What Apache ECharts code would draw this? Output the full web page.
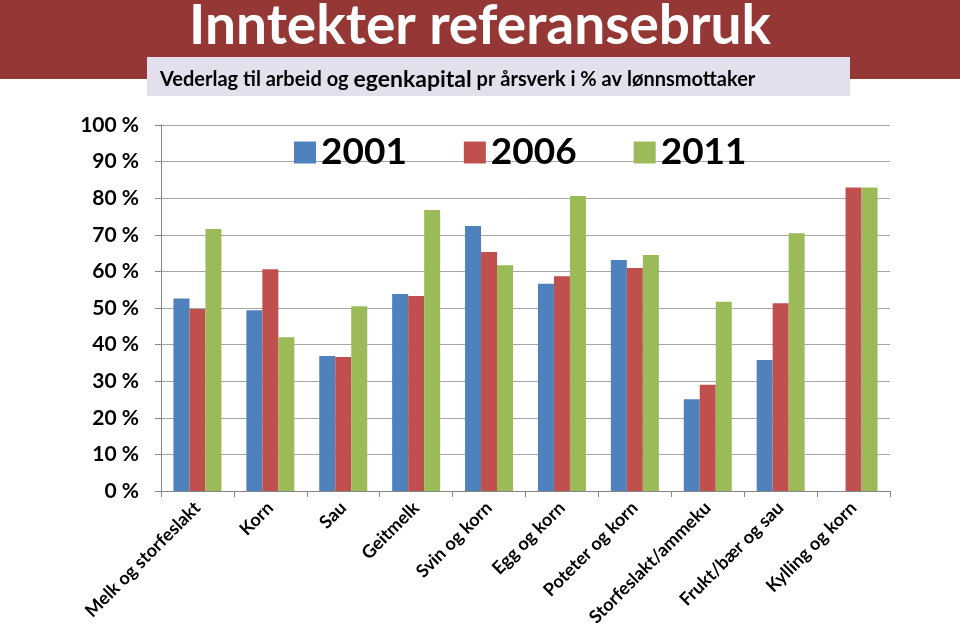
<!DOCTYPE html>
<html>
<head>
<meta charset="utf-8">
<script src="https://cdn.jsdelivr.net/npm/echarts@6/dist/echarts.min.js"></script>
<style>
  html, body { margin: 0; padding: 0; background: #fff; }
  #chart { width: 960px; height: 633px; }
</style>
</head>
<body>
<div id="chart"></div>
<script>
const categories = ['Melk og storfeslakt', 'Korn', 'Sau', 'Geitmelk', 'Svin og korn',
  'Egg og korn', 'Poteter og korn', 'Storfeslakt/ammeku', 'Frukt/bær og sau', 'Kylling og korn']
const years = ['2001', '2006', '2011']
const values2001 = [52.6, 49.4, 36.9, 53.8, 72.4, 56.6, 63.1, 25.1, 35.8, null]
const values2006 = [49.7, 60.6, 36.6, 53.3, 65.3, 58.7, 60.9, 29.0, 51.3, 82.9]
const values2011 = [71.6, 42.0, 50.5, 76.8, 61.7, 80.6, 64.5, 51.7, 70.4, 82.9]
const colors = ['#4f81bd', '#c0504d', '#9bbb59']

const font = 'Lato, "Open Sans", sans-serif'
const chart = echarts.init(document.getElementById('chart'))

function barSeries (name, data, i) {
  return {
    name: name,
    type: 'bar',
    data: data,
    barWidth: 16,
    barGap: '0%',
    itemStyle: { color: colors[i] }
  }
}

const option = {
  animation: false,
  graphic: [
    { type: 'rect', z: -10, shape: { x: 0, y: 0, width: 960, height: 79 }, style: { fill: '#953735' } },
    { type: 'rect', z: -9, shape: { x: 147, y: 57, width: 703, height: 39 }, style: { fill: '#e4dfec' } }
  ],
  title: [
    {
      text: 'Inntekter referansebruk',
      left: 'center',
      top: -6,
      textStyle: { color: '#fff', fontSize: 55, fontWeight: 'bold', fontFamily: font }
    },
    {
      text: 'Vederlag til arbeid og {big|egenkapital} pr årsverk i % av lønnsmottaker',
      left: 155,
      top: 63,
      textStyle: {
        color: '#000', fontSize: 20, fontWeight: 'bold', fontFamily: font,
        rich: { big: { fontSize: 23, fontWeight: 'bold', fontFamily: font, color: '#000' } }
      }
    }
  ],
  legend: {
    data: years,
    left: 289,
    top: 129,
    itemWidth: 22,
    itemHeight: 22,
    itemGap: 57,
    icon: 'rect',
    textStyle: { fontSize: 37, fontWeight: 'bold', color: '#000', fontFamily: font }
  },
  grid: { left: 161, right: 70, top: 125, bottom: 142 },
  xAxis: {
    type: 'category',
    data: categories,
    axisLine: { lineStyle: { color: '#868686' } },
    axisTick: { show: true, length: 6, lineStyle: { color: '#868686' } },
    axisLabel: {
      interval: 0,
      rotate: 45,
      margin: 14,
      color: '#000',
      fontSize: 18,
      fontWeight: 'bold',
      fontFamily: font
    }
  },
  yAxis: {
    type: 'value',
    min: 0,
    max: 100,
    interval: 10,
    axisLine: { show: true, lineStyle: { color: '#868686' } },
    axisTick: { show: true, length: 6, lineStyle: { color: '#868686' } },
    splitLine: { lineStyle: { color: '#a6a6a6' } },
    axisLabel: {
      formatter: '{value} %',
      margin: 22,
      color: '#000',
      fontSize: 21,
      fontWeight: 'bold',
      fontFamily: font
    }
  },
  series: [
    barSeries(years[0], values2001, 0),
    barSeries(years[1], values2006, 1),
    barSeries(years[2], values2011, 2)
  ]
}

chart.setOption(option)
window.addEventListener('resize', () => chart.resize())
</script>
</body>
</html>
